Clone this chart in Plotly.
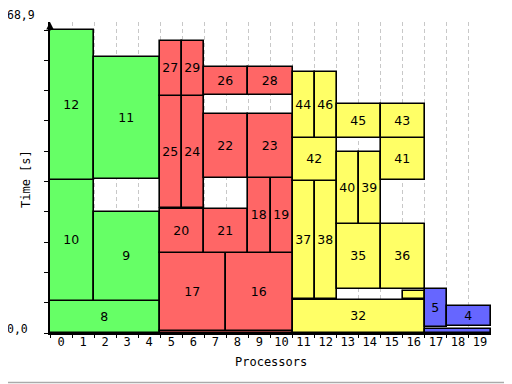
import plotly.graph_objects as go

# ---- data -------------------------------------------------------------
task_labels = ["8", "10", "12", "9", "11",
               "", "17", "16", "20", "21", "18", "19", "25", "24", "22", "23", "27", "29", "26", "28",
               "32", "37", "38", "42", "44", "46", "", "35", "36", "40", "39", "41", "45", "43",
               "", "5", "4"]
first_proc = [0, 0, 0, 2, 2,
              5, 5, 8, 5, 7, 9, 10, 5, 6, 7, 9, 5, 6, 7, 9,
              11, 11, 12, 11, 11, 12, 16, 13, 15, 13, 14, 15, 13, 15,
              17, 17, 18]
last_proc = [4, 1, 1, 4, 4,
             10, 7, 10, 6, 8, 9, 10, 5, 6, 8, 10, 5, 6, 8, 10,
             16, 11, 12, 12, 11, 12, 16, 14, 16, 13, 14, 16, 14, 16,
             19, 17, 19]
start_time = [0.0, 7.35, 34.8, 7.35, 35.0,
              0.0, 0.5, 0.5, 18.1, 18.1, 18.1, 18.1, 28.4, 28.4, 35.2, 35.2, 53.9, 53.9, 54.1, 54.1,
              0.0, 7.7, 7.7, 34.6, 44.4, 44.4, 7.7, 9.9, 9.9, 24.9, 24.9, 34.7, 44.4, 44.4,
              0.0, 1.4, 1.6]
end_time = [7.35, 34.8, 68.9, 27.45, 62.7,
            0.5, 18.1, 18.1, 28.1, 28.1, 35.2, 35.2, 53.9, 53.9, 49.7, 49.7, 66.3, 66.3, 60.6, 60.6,
            7.5, 34.6, 34.6, 44.4, 59.3, 59.3, 9.5, 24.9, 24.9, 41.1, 41.1, 44.4, 52.1, 52.1,
            0.9, 9.9, 6.1]
task_group = ["g"] * 5 + ["r"] * 15 + ["y"] * 14 + ["b"] * 3

group_colors = {"g": "#66ff66", "r": "#ff6666", "y": "#ffff66", "b": "#6666ff"}
n_processors = 20
t_max = 68.9
y_ticks = [round(t_max * k / 10, 2) for k in range(11)]
proc_labels = [str(i) for i in range(n_processors)]

# ---- figure -----------------------------------------------------------
fig = go.Figure()
for g in ["g", "r", "y", "b"]:
    idx = [i for i, gg in enumerate(task_group) if gg == g]
    fig.add_trace(go.Bar(
        x=[(first_proc[i] + last_proc[i] + 1) / 2 for i in idx],
        width=[last_proc[i] - first_proc[i] + 1 for i in idx],
        base=[start_time[i] for i in idx],
        y=[end_time[i] - start_time[i] for i in idx],
        text=[task_labels[i] for i in idx],
        textposition="inside",
        insidetextanchor="middle",
        textangle=0,
        constraintext="none",
        insidetextfont=dict(family="DejaVu Sans", size=12.5, color="black"),
        marker=dict(color=group_colors[g], line=dict(color="black", width=1.6)),
        showlegend=False,
        hoverinfo="skip",
    ))

# invisible trace to activate label axis
fig.add_trace(go.Scatter(x=[0.5], y=[0], xaxis="x2", mode="markers",
                         marker=dict(opacity=0), showlegend=False, hoverinfo="skip"))

y_top = t_max * 311 / 303

fig.update_layout(
    width=504, height=376,
    margin=dict(l=42, r=21, t=14, b=51, autoexpand=False),
    paper_bgcolor="white", plot_bgcolor="white",
    barmode="overlay", bargap=0,
    font=dict(family="DejaVu Sans Mono", size=11, color="black"),
    xaxis=dict(range=[0, n_processors], tickvals=list(range(n_processors)),
               showticklabels=False, ticks="outside", ticklen=3, tickcolor="black",
               showgrid=True, gridcolor="#c8c8c8", griddash="4px,3px", gridwidth=1,
               showline=True, linecolor="black", linewidth=1.5, zeroline=False,
               automargin=False),
    xaxis2=dict(range=[0, n_processors], overlaying="x", side="bottom",
                tickvals=[i + 0.5 for i in range(n_processors)], ticktext=proc_labels,
                ticks="", showgrid=False, showline=False, zeroline=False,
                automargin=False,
                tickfont=dict(family="DejaVu Sans Mono", size=12)),
    yaxis=dict(range=[0, y_top], tickvals=y_ticks,
               showticklabels=False,
               ticks="outside", ticklen=4, tickcolor="black",
               automargin=False,
               showgrid=False, zeroline=False,
               showline=True, linecolor="black", linewidth=1.5),
    annotations=[
        dict(x=0, y=t_max, xref="x", yref="y", text="68,9", showarrow=False,
             xanchor="right", yanchor="middle", xshift=-13, yshift=15,
             font=dict(family="DejaVu Sans Mono", size=11.5)),
        dict(x=0, y=0, xref="x", yref="y", text="0,0", showarrow=False,
             xanchor="right", yanchor="middle", xshift=-20, yshift=4,
             font=dict(family="DejaVu Sans Mono", size=11.5)),
        dict(x=-24 / 441, y=(333 - 179) / 311, xref="paper", yref="paper", text="Time [s]",
             showarrow=False, textangle=-90, xanchor="center", yanchor="middle",
             font=dict(family="DejaVu Sans Mono", size=12)),
        dict(x=0.5, y=(333 - 362) / 311, xref="paper", yref="paper", text="Processors",
             showarrow=False, xanchor="center", yanchor="middle",
             font=dict(family="DejaVu Sans Mono", size=12)),
        dict(x=0, y=y_top, xref="x", yref="y", text="", showarrow=True,
             arrowhead=2, arrowsize=1, arrowwidth=1.5, arrowcolor="black", ax=0, ay=10),
    ],
    shapes=[dict(type="rect", xref="paper", yref="paper",
                 x0=-49.5 / 441, x1=(510.5 - 50) / 441, y0=-(382.5 - 333) / 311, y1=(333 - 0.5) / 311,
                 line=dict(color="#aaaaaa", width=1.5), fillcolor="rgba(0,0,0,0)", layer="below")],
)

fig.write_html("out.html")
